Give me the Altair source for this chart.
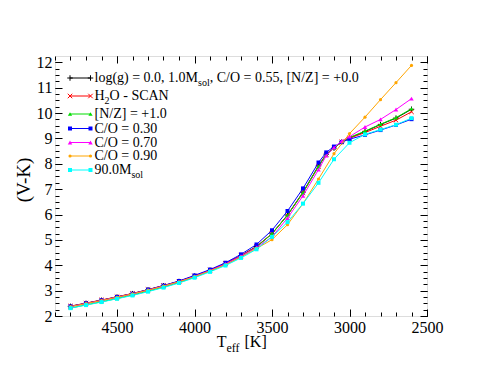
import altair as alt
import pandas as pd

# ---------------- data ----------------
teff_fine = [4800, 4700, 4600, 4500, 4400, 4300, 4200, 4100, 4000, 3900, 3800, 3700,
             3600, 3500, 3400, 3300, 3200, 3150, 3100, 3050, 3000, 2900, 2800, 2700, 2600]
teff_100 = [4800, 4700, 4600, 4500, 4400, 4300, 4200, 4100, 4000, 3900, 3800, 3700,
            3600, 3500, 3400, 3300, 3200, 3100, 3000, 2900, 2800, 2700, 2600]

vk_ref = [2.38, 2.50, 2.62, 2.75, 2.88, 3.03, 3.19, 3.36, 3.57, 3.80, 4.06, 4.38,
          4.74, 5.24, 5.98, 6.88, 7.92, 8.38, 8.62, 8.86, 9.02, 9.27, 9.55, 9.80, 10.15]
vk_h2o = [2.39, 2.51, 2.63, 2.76, 2.89, 3.04, 3.20, 3.37, 3.58, 3.81, 4.07, 4.38,
          4.74, 5.25, 5.97, 6.86, 7.90, 8.37, 8.62, 8.86, 9.01, 9.23, 9.48, 9.72, 10.05]
vk_nz = [2.31, 2.44, 2.56, 2.69, 2.83, 2.98, 3.14, 3.32, 3.53, 3.77, 4.03, 4.35,
         4.72, 5.24, 5.97, 6.86, 7.90, 8.36, 8.62, 8.86, 9.04, 9.29, 9.56, 9.82, 10.17]
vk_co30 = [2.38, 2.50, 2.62, 2.75, 2.88, 3.04, 3.20, 3.38, 3.60, 3.83, 4.10, 4.43,
           4.82, 5.38, 6.14, 7.03, 8.05, 8.45, 8.68, 8.86, 8.97, 9.14, 9.33, 9.53, 9.76]
vk_co70 = [2.37, 2.49, 2.61, 2.74, 2.87, 3.02, 3.18, 3.35, 3.56, 3.79, 4.05, 4.36,
           4.70, 5.12, 5.86, 6.74, 7.77, 8.32, 8.64, 8.90, 9.07, 9.45, 9.75, 10.14, 10.57]
vk_co90 = [2.37, 2.49, 2.61, 2.74, 2.87, 3.02, 3.18, 3.35, 3.55, 3.78, 4.02, 4.32,
           4.66, 5.01, 5.60, 6.43, 7.40, 8.40, 9.19, 9.84, 10.53, 11.20, 11.88]
vk_m90 = [2.31, 2.43, 2.55, 2.68, 2.81, 2.96, 3.12, 3.30, 3.51, 3.74, 3.99, 4.29,
          4.63, 5.12, 5.70, 6.43, 7.25, 8.18, 8.83, 9.16, 9.35, 9.54, 9.80]

# legend labels: (main text, subscript, trailing text)
legend_labels = [
    ("log(g) = 0.0, 1.0M", "sol", ", C/O = 0.55, [N/Z] = +0.0"),
    ("H", "2", "O - SCAN"),
    ("[N/Z] = +1.0", "", ""),
    ("C/O = 0.30", "", ""),
    ("C/O = 0.70", "", ""),
    ("C/O = 0.90", "", ""),
    ("90.0M", "sol", ""),
]

x_major = [2500, 3000, 3500, 4000, 4500]
x_minor = list(range(2500, 4901, 100))
y_major = [2, 3, 4, 5, 6, 7, 8, 9, 10, 11, 12]
y_minor = [2 + 0.25 * i for i in range(41)]

# ---------------- styles ----------------
FONT = "Liberation Serif"
W, H = 372, 260
PLUS = "M-1,0L1,0M0,-1L0,1"
XSYM = "M-1,-1L1,1M-1,1L1,-1"

series = [
    (teff_fine, vk_ref, "#000000", PLUS, False, 30),
    (teff_fine, vk_h2o, "#ff0000", XSYM, False, 20),
    (teff_fine, vk_nz, "#00dd00", "triangle-up", True, 18),
    (teff_fine, vk_co30, "#0000ff", "square", True, 16),
    (teff_fine, vk_co70, "#ff00ff", "triangle-up", True, 20),
    (teff_100, vk_co90, "#ffa500", "circle", True, 10),
    (teff_100, vk_m90, "#00ffff", "square", True, 16),
]
# legend row centres, relative to the top of the plot area
legend_rows = [22, 40, 58, 72.5, 86.5, 100, 114]

xscale = alt.Scale(domain=[2500, 4900], reverse=True, nice=False, zero=False)
yscale = alt.Scale(domain=[2, 12.25], nice=False, zero=False)


def axis(orient, values, size, labels):
    kw = dict(orient=orient, values=values, tickSize=size, offset=-size, domain=False,
              grid=False, labels=labels, title=None, tickColor="black", tickWidth=1,
              labelFont=FONT, labelFontSize=16, labelColor="black", labelPadding=3,
              labelFlush=False, labelOverlap=False, labelBound=False)
    if orient in ("bottom", "top"):
        kw["format"] = "d"
    return alt.Axis(**kw)


axis_sets = [
    (axis("bottom", x_major, 7, True), axis("left", y_major, 7, True)),
    (axis("bottom", x_minor, 4, False), axis("left", y_minor, 4, False)),
    (axis("top", x_major, 7, False), axis("right", y_major, 7, False)),
    (axis("top", x_minor, 4, False), axis("right", y_minor, 4, False)),
]

layers = []
ai = 0
for teff, vk, color, shape, filled, size in series:
    df = pd.DataFrame({"Teff": teff, "VK": vk})
    for kind in ("line", "point"):
        if ai < len(axis_sets):
            xa, ya = axis_sets[ai]
        else:
            xa, ya = None, None
        ai += 1
        enc = dict(
            x=alt.X("Teff:Q", scale=xscale, axis=xa),
            y=alt.Y("VK:Q", scale=yscale, axis=ya),
        )
        if kind == "line":
            m = alt.Chart(df).mark_line(color=color, strokeWidth=1)
        else:
            m = alt.Chart(df).mark_point(shape=shape, filled=filled, size=size,
                                         color=color, opacity=1, strokeWidth=1)
        layers.append(m.encode(**enc))

# ---------------- custom legend ----------------
one = pd.DataFrame({"k": [0]})
TIMES = {"l": 278, "o": 500, "g": 500, "(": 333, ")": 333, " ": 250, "=": 564, "0": 500,
         ".": 250, ",": 250, "1": 500, "M": 889, "H": 722, "9": 500, "s": 389}
LX0, LX1, TX = 15, 35.5, 39.5
for (teff, vk, color, shape, filled, size), (main, sub, tail), ly in zip(series, legend_labels, legend_rows):
    layers.append(alt.Chart(one).mark_rule(color=color, strokeWidth=1).encode(
        x=alt.value(LX0), x2=alt.value(LX1), y=alt.value(ly)))
    for lx in (LX0, LX1):
        layers.append(alt.Chart(one).mark_point(shape=shape, filled=filled, size=size,
                                                color=color, opacity=1, strokeWidth=1).encode(
            x=alt.value(lx), y=alt.value(ly)))
    layers.append(alt.Chart(one).mark_text(text=main, font=FONT, fontSize=14, align="left",
                                           baseline="middle", color="black").encode(
        x=alt.value(TX), y=alt.value(ly)))
    if sub:
        wmain = sum(TIMES.get(c, 500) for c in main) / 1000 * 14
        layers.append(alt.Chart(one).mark_text(text=sub, font=FONT, fontSize=10, align="left",
                                               baseline="middle", color="black").encode(
            x=alt.value(TX + wmain), y=alt.value(ly + 5)))
        if tail:
            wsub = sum(TIMES.get(c, 500) for c in sub) / 1000 * 10
            layers.append(alt.Chart(one).mark_text(text=tail, font=FONT, fontSize=14, align="left",
                                                   baseline="middle", color="black").encode(
                x=alt.value(TX + wmain + wsub), y=alt.value(ly)))

# ---------------- axis titles ----------------
layers.append(alt.Chart(one).mark_text(text="(V-K)", font=FONT, fontSize=19, angle=270,
                                       align="center", baseline="middle", color="black").encode(
    x=alt.value(-31), y=alt.value(124)))
layers.append(alt.Chart(one).mark_text(text="T", font=FONT, fontSize=16, align="left",
                                       baseline="alphabetic", color="black").encode(
    x=alt.value(161.7), y=alt.value(290.5)))
layers.append(alt.Chart(one).mark_text(text="eff", font=FONT, fontSize=12, align="left",
                                       baseline="alphabetic", color="black").encode(
    x=alt.value(171.5), y=alt.value(295.5)))
layers.append(alt.Chart(one).mark_text(text="[K]", font=FONT, fontSize=16, align="left",
                                       baseline="alphabetic", color="black").encode(
    x=alt.value(189.5), y=alt.value(290.5)))

chart = alt.layer(*layers).resolve_axis(x="independent", y="independent").properties(
    width=W, height=H,
    autosize=alt.AutoSizeParams(type="none"),
    padding={"left": 47, "top": 48, "right": 59, "bottom": 58},
).configure_view(stroke="black", strokeWidth=1).configure_axis(
    labelFont=FONT, labelFontSize=16, labelColor="black"
).configure(background="white", font=FONT)

chart.save("out.html", embed_options={"renderer": "svg", "actions": False})
